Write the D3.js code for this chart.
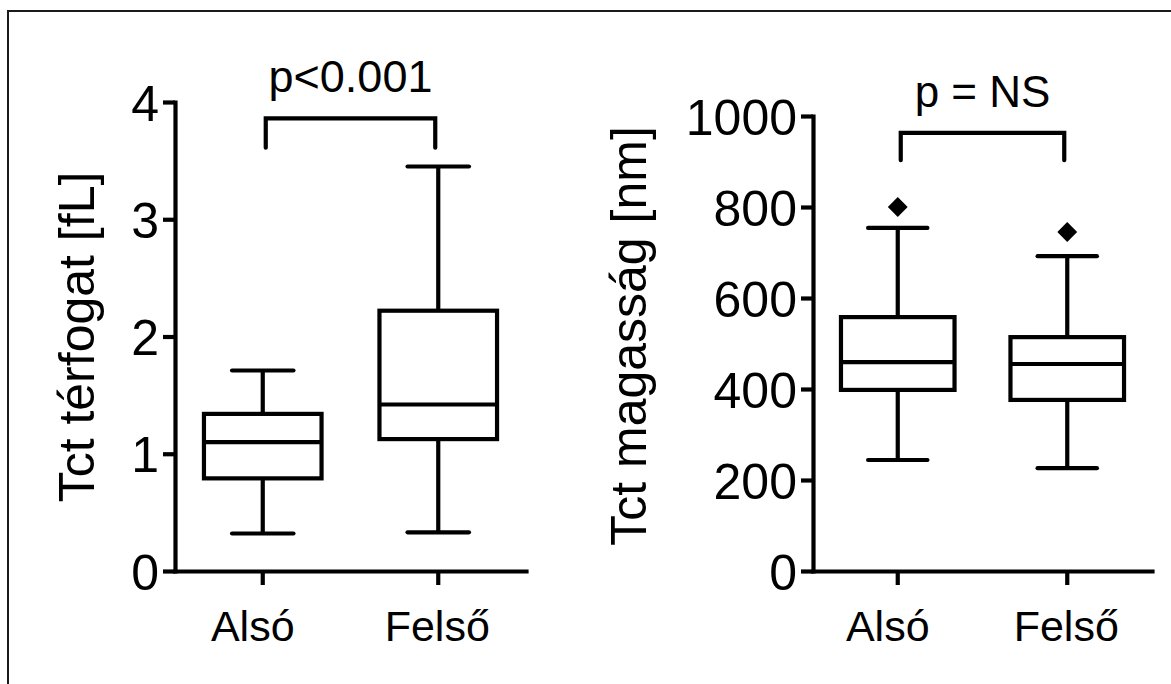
<!DOCTYPE html>
<html>
<head>
<meta charset="utf-8">
<script src="https://cdn.jsdelivr.net/npm/d3@7"></script>
<style>
  html, body { margin: 0; padding: 0; background: #fff; }
  svg { display: block; }
  text { font-family: "Liberation Sans", Arial, Helvetica, sans-serif; fill: #000; }
</style>
</head>
<body>
<svg id="chart" width="1171" height="684"></svg>
<script>
// ---------- data ----------
const categories = ["Alsó", "Felső"];

// Left panel: Tct térfogat [fL]
const volMin    = [0.32, 0.33];
const volQ1     = [0.79, 1.125];
const volMedian = [1.10, 1.42];
const volQ3     = [1.34, 2.22];
const volMax    = [1.71, 3.45];
const volTicks  = [0, 1, 2, 3, 4];
const volBracket = [3.61, 3.86];   // leg bottom, bar level
const volLabel  = "p<0.001";

// Right panel: Tct magasság [nm]
const hMin      = [244, 226];
const hQ1       = [398, 376];
const hMedian   = [459, 455];
const hQ3       = [558, 514];
const hMax      = [754, 692];
const hOutliers = [800, 745];
const hTicks    = [0, 200, 400, 600, 800, 1000];
const hBracket  = [903, 963];
const hLabel    = "p = NS";

const svg = d3.select("#chart");
svg.append("rect").attr("width", 1171).attr("height", 684).attr("fill", "#fff");

// frame (top and left edges)
svg.append("path").attr("d", "M8,684 L8,11 L1171,11")
  .attr("fill", "none").attr("stroke", "#1a1a1a").attr("stroke-width", 2);

function panel(opts) {
  const g = svg.append("g");
  const x = d3.scaleBand().domain(categories).range([opts.x0, opts.x1]).padding(0);
  const y = d3.scaleLinear().domain(opts.domain).range([571, opts.yTop]);
  const bw = x.bandwidth();
  const cx = c => x(c) + bw / 2;
  const LW = 4.2;

  // y axis
  const ya = g.append("g").attr("transform", `translate(${opts.x0},0)`)
    .call(d3.axisLeft(y).tickValues(opts.ticks).tickFormat(d => String(d))
      .tickSize(12).tickPadding(4).tickSizeOuter(0));
  ya.select(".domain").attr("stroke", "#000").attr("stroke-width", LW).attr("stroke-linecap", "square");
  ya.selectAll(".tick line").attr("stroke", "#000").attr("stroke-width", LW);
  ya.selectAll(".tick text").attr("font-size", 50).attr("dy", "0.36em")
    .attr("font-family", "Liberation Sans, Arial, sans-serif").attr("fill", "#000");

  // x axis
  const xa = g.append("g").attr("transform", "translate(0,571)")
    .call(d3.axisBottom(x).tickSize(14).tickPadding(25).tickSizeOuter(0));
  xa.select(".domain").attr("stroke", "#000").attr("stroke-width", LW).attr("stroke-linecap", "square");
  xa.selectAll(".tick line").attr("stroke", "#000").attr("stroke-width", LW);
  xa.selectAll(".tick text").attr("font-size", 43)
    .attr("font-family", "Liberation Sans, Arial, sans-serif").attr("fill", "#000")
    .attr("dx", (d, i) => i === 0 ? -10 : -1);

  // boxes
  const boxW = bw * 0.67, capW = bw * 0.35;
  categories.forEach((c, i) => {
    const X = cx(c);
    const bg = g.append("g").attr("stroke", "#000").attr("stroke-width", LW).attr("fill", "none");
    // whiskers
    bg.append("line").attr("x1", X).attr("x2", X).attr("y1", y(opts.min[i])).attr("y2", y(opts.q1[i]));
    bg.append("line").attr("x1", X).attr("x2", X).attr("y1", y(opts.q3[i])).attr("y2", y(opts.max[i]));
    bg.append("line").attr("x1", X - capW / 2).attr("x2", X + capW / 2)
      .attr("y1", y(opts.min[i])).attr("y2", y(opts.min[i])).attr("stroke-linecap", "round");
    bg.append("line").attr("x1", X - capW / 2).attr("x2", X + capW / 2)
      .attr("y1", y(opts.max[i])).attr("y2", y(opts.max[i])).attr("stroke-linecap", "round");
    // box
    bg.append("rect").attr("x", X - boxW / 2).attr("width", boxW)
      .attr("y", y(opts.q3[i])).attr("height", y(opts.q1[i]) - y(opts.q3[i]));
    bg.append("line").attr("x1", X - boxW / 2).attr("x2", X + boxW / 2)
      .attr("y1", y(opts.median[i])).attr("y2", y(opts.median[i]));
    // outliers
    if (opts.outliers) {
      g.append("path")
        .attr("d", d3.symbol().type(d3.symbolDiamond2).size(250)())
        .attr("transform", `translate(${X},${y(opts.outliers[i])})`)
        .attr("fill", "#000");
    }
  });

  // significance bracket
  const bx1 = cx(categories[0]) + 3, bx2 = cx(categories[1]) - 3;
  g.append("path")
    .attr("d", `M${bx1},${y(opts.bracket[0])} L${bx1},${y(opts.bracket[1])} L${bx2},${y(opts.bracket[1])} L${bx2},${y(opts.bracket[0])}`)
    .attr("fill", "none").attr("stroke", "#000").attr("stroke-width", LW)
    .attr("stroke-linecap", "round").attr("stroke-linejoin", "miter");
  g.append("text").attr("x", (bx1 + bx2) / 2).attr("y", opts.pY)
    .attr("text-anchor", "middle").attr("font-size", opts.pSize).text(opts.label);

  // y title
  g.append("text").attr("transform", `translate(${opts.titleX},${opts.titleY}) rotate(-90)`)
    .attr("text-anchor", "middle").attr("font-size", 50).text(opts.title);
}

panel({
  x0: 175, x1: 526, yTop: 102, domain: [0, 4], ticks: volTicks,
  min: volMin, q1: volQ1, median: volMedian, q3: volQ3, max: volMax,
  bracket: volBracket, label: volLabel, pY: 92, pSize: 45,
  title: "Tct térfogat [fL]", titleX: 94, titleY: 337
});

panel({
  x0: 813, x1: 1152, yTop: 116, domain: [0, 1000], ticks: hTicks,
  min: hMin, q1: hQ1, median: hMedian, q3: hQ3, max: hMax, outliers: hOutliers,
  bracket: hBracket, label: hLabel, pY: 107, pSize: 44,
  title: "Tct magasság [nm]", titleX: 646, titleY: 336
});
</script>
</body>
</html>
